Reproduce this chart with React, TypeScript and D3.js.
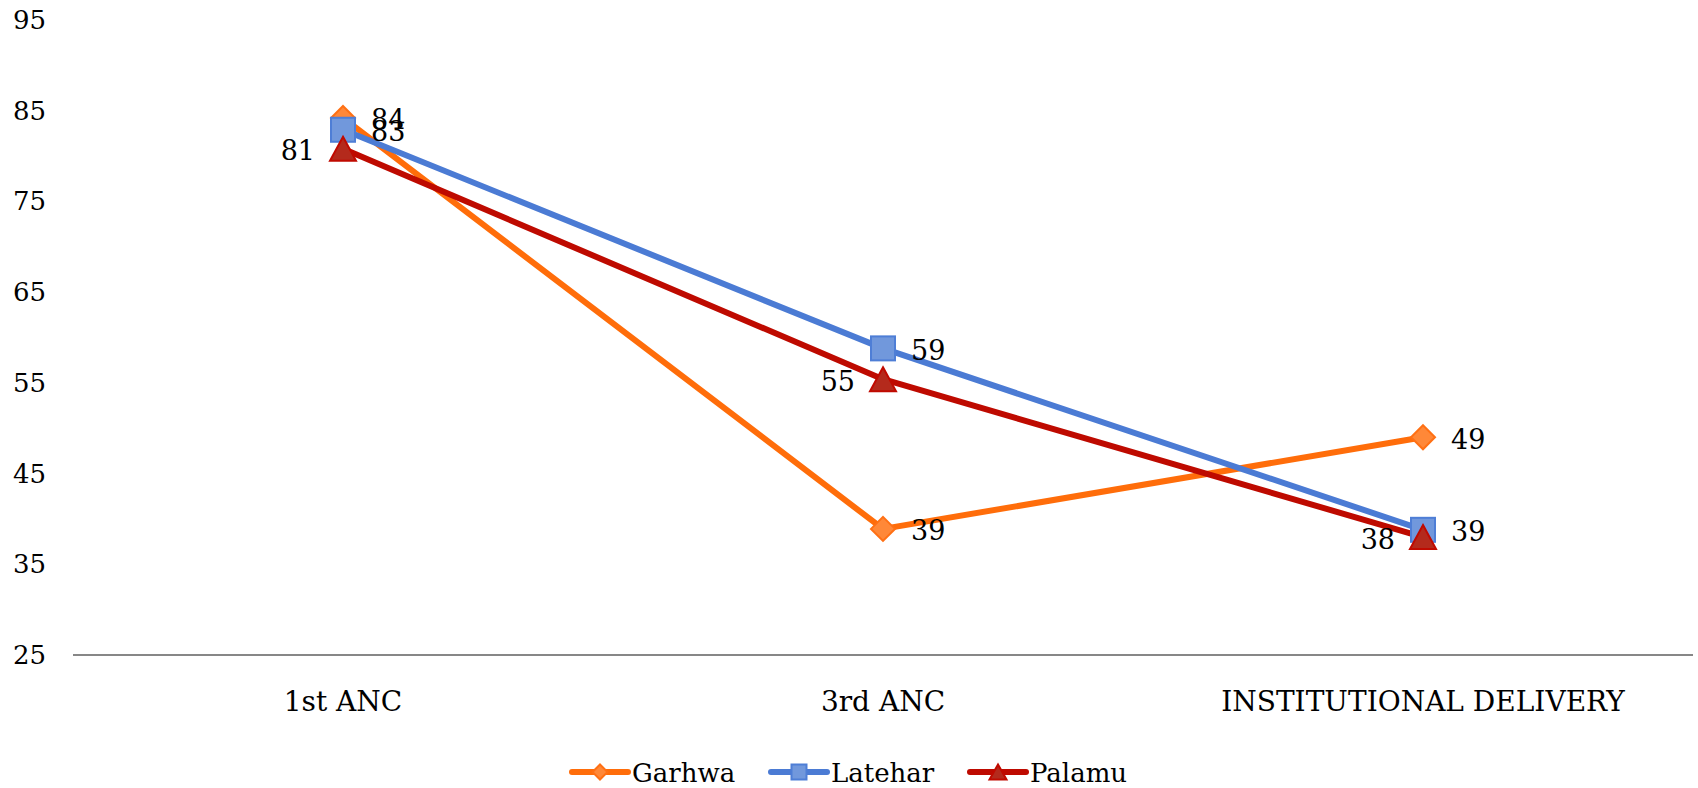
import React from "react";
import * as d3 from "d3";

const categories = ["1st ANC", "3rd ANC", "INSTITUTIONAL DELIVERY"];
const seriesNames = ["Garhwa", "Latehar", "Palamu"];
const garhwa = [84.2, 38.9, 49.0];
const latehar = [82.9, 58.8, 38.8];
const palamu = [80.8, 55.4, 38.0];
const yTicks = [25, 35, 45, 55, 65, 75, 85, 95];

const W = 1698;
const H = 788;
const FONT = "'DejaVu Serif', serif";

const styles: Record<string, { line: string; fill: string; stroke: string; shape: string; labelSide: number }> = {
  Garhwa: { line: "#FF6D0A", fill: "#FF8838", stroke: "#FF7014", shape: "diamond", labelSide: 1 },
  Latehar: { line: "#4B7BD4", fill: "#7198DC", stroke: "#4E7ED6", shape: "square", labelSide: 1 },
  Palamu: { line: "#BE0A00", fill: "#B42A1C", stroke: "#C00A00", shape: "triangle", labelSide: -1 },
};

function Marker({ shape, x, y, s, fill, stroke }: any) {
  const h = s / 2;
  if (shape === "diamond") {
    return <path d={`M${x},${y - h}L${x + h},${y}L${x},${y + h}L${x - h},${y}Z`} fill={fill} stroke={stroke} strokeWidth={2} />;
  }
  if (shape === "square") {
    return <rect x={x - h} y={y - h} width={s} height={s} fill={fill} stroke={stroke} strokeWidth={2} />;
  }
  const th = s;
  return (
    <path
      d={`M${x},${y - th / 2}L${x + h + 1},${y + th / 2}L${x - h - 1},${y + th / 2}Z`}
      fill={fill}
      stroke={stroke}
      strokeWidth={2}
      strokeLinejoin="miter"
    />
  );
}

export default function App() {
  const data: Record<string, number[]> = { Garhwa: garhwa, Latehar: latehar, Palamu: palamu };
  const x = d3.scalePoint<string>().domain(categories).range([73, 1693]).padding(0.5);
  const y = d3.scaleLinear().domain([25, 95]).range([655, 20]);
  const lineGen = d3
    .line<number>()
    .x((_, i) => x(categories[i]) as number)
    .y((d) => y(d));
  const legendX = d3.scaleBand<string>().domain(seriesNames).range([572, 572 + 199 * 3]);

  return (
    <svg width={W} height={H} style={{ position: "absolute", left: 0, top: 0, background: "#fff" }} fontFamily={FONT}>
      <rect width={W} height={H} fill="#fff" />
      {yTicks.map((t) => (
        <text key={t} x={46} y={y(t)} textAnchor="end" dominantBaseline="central" fontSize={26} fill="#000">
          {t}
        </text>
      ))}
      <line x1={73} x2={1693} y1={y(25)} y2={y(25)} stroke="#878787" strokeWidth={2} />
      {categories.map((c) => (
        <text key={c} x={x(c)} y={711} textAnchor="middle" fontSize={28} fill="#000">
          {c}
        </text>
      ))}
      {seriesNames.map((n) => (
        <path key={n} d={lineGen(data[n]) as string} fill="none" stroke={styles[n].line} strokeWidth={6} strokeLinejoin="round" strokeLinecap="round" />
      ))}
      {seriesNames.map((n) =>
        data[n].map((v, i) => (
          <Marker key={n + i} shape={styles[n].shape} x={x(categories[i]) as number} y={y(v)} s={24} fill={styles[n].fill} stroke={styles[n].stroke} />
        ))
      )}
      {seriesNames.map((n) =>
        data[n].map((v, i) => {
          const px = x(categories[i]) as number;
          const side = styles[n].labelSide;
          return (
            <text
              key={"l" + n + i}
              x={px + side * 28}
              y={y(v) + 2}
              textAnchor={side > 0 ? "start" : "end"}
              dominantBaseline="central"
              fontSize={27}
              fill="#000"
            >
              {Math.round(v)}
            </text>
          );
        })
      )}
      {seriesNames.map((n) => {
        const lx = legendX(n) as number;
        const st = styles[n];
        return (
          <g key={"lg" + n}>
            <line x1={lx} x2={lx + 56} y1={772} y2={772} stroke={st.line} strokeWidth={6} strokeLinecap="round" />
            <Marker shape={st.shape} x={lx + 28} y={772} s={15} fill={st.fill} stroke={st.stroke} />
            <text x={lx + 60} y={782} fontSize={26} fill="#000">
              {n}
            </text>
          </g>
        );
      })}
    </svg>
  );
}
